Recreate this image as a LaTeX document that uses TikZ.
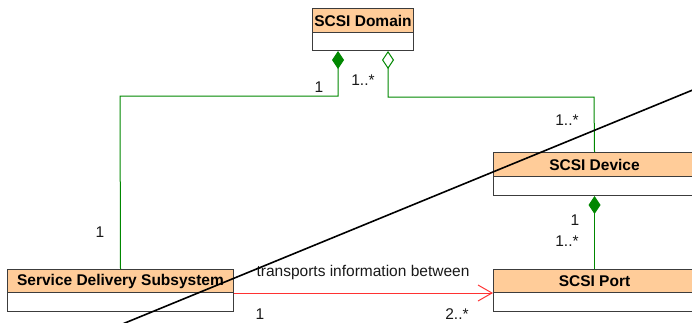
\documentclass[tikz,border=0pt]{standalone}
\usepackage{fontspec}
\setmainfont{Liberation Sans}
\usetikzlibrary{arrows.meta,calc}
\definecolor{peach}{RGB}{255,204,153}
\definecolor{umlgreen}{RGB}{0,135,0}
\definecolor{umlred}{RGB}{255,50,50}
\definecolor{boxline}{RGB}{60,60,60}
\begin{document}
\begin{tikzpicture}[x=1pt,y=-1pt,
  hdr/.style={draw=boxline, line width=1pt, fill=peach, minimum height=24pt, inner sep=0pt,
    font=\bfseries\fontsize{15.5}{18}\selectfont, anchor=north west},
  bdy/.style={draw=boxline, line width=1pt, fill=white, inner sep=0pt, anchor=north west},
  mult/.style={font=\fontsize{15.5}{18}\selectfont, inner sep=0pt, text=black!90},
  comp/.style={draw=umlgreen, line width=1pt, {Diamond[length=18pt,width=12pt,fill=umlgreen]}-},
  aggr/.style={draw=umlgreen, line width=1pt, {Diamond[open,length=18pt,width=12pt,fill=white]}-},
  assoc/.style={draw=umlred, line width=1pt, -{Straight Barb[length=14pt,width=16pt,line width=1pt]}},
  diag/.style={draw=black, line width=1.6pt}]
\useasboundingbox (0,0) rectangle (692,322);
\clip (0,0) rectangle (692,322);
% SCSI Domain
\node[hdr, minimum width=101pt] (dom) at (312,8) {SCSI Domain};
\node[bdy, minimum width=101pt, minimum height=18pt] (domb) at (312,32) {};
% SCSI Device
\node[hdr, minimum width=202pt] (dev) at (493,152) {SCSI Device};
\node[bdy, minimum width=202pt, minimum height=19pt] (devb) at (493,176) {};
% Service Delivery Subsystem
\node[hdr, minimum width=226pt, minimum height=23pt] (sds) at (7,269) {Service Delivery Subsystem};
\node[bdy, minimum width=226pt, minimum height=19pt] (sdsb) at (7,292) {};
% SCSI Port
\node[hdr, minimum width=202pt, minimum height=23pt] (port) at (493,269) {SCSI Port};
\node[bdy, minimum width=202pt, minimum height=19pt] (portb) at (493,292) {};
% bend points
\coordinate (s1) at ([xshift=26pt]domb.south west);
\coordinate (b1) at (338,96);
\coordinate (b2) at (120,96);
\coordinate (s2) at ([xshift=76pt]domb.south west);
\coordinate (b3) at (388,97);
\coordinate (b4) at (594,97);
% connectors
\draw[comp] (s1) -- (b1) -- (b2) -- (sds.north);
\draw[aggr] (s2) -- (b3) -- (b4) -- (dev.north);
\draw[comp] (devb.south) -- (port.north);
\draw[assoc] (sds.south east) -- (port.south west);
% labels
\node[mult] (m1) at (319,87) {1};
\node[mult] (m2) at (363,80) {1..*};
\node[mult] (m3) at (567,120) {1..*};
\node[mult] (m4) at (100,232) {1};
\node[mult] (m5) at (575,220) {1};
\node[mult] (m6) at (567,241) {1..*};
\node[mult] (lab) at (363,272) {transports information between};
\node[mult] (m7) at (260,314) {1};
\node[mult] (m8) at (457,314) {2..*};
% diagonal stroke
\coordinate (d1) at (120,325);
\coordinate (d2) at (700,87);
\draw[diag] (d1) -- (d2);
\end{tikzpicture}
\end{document}
